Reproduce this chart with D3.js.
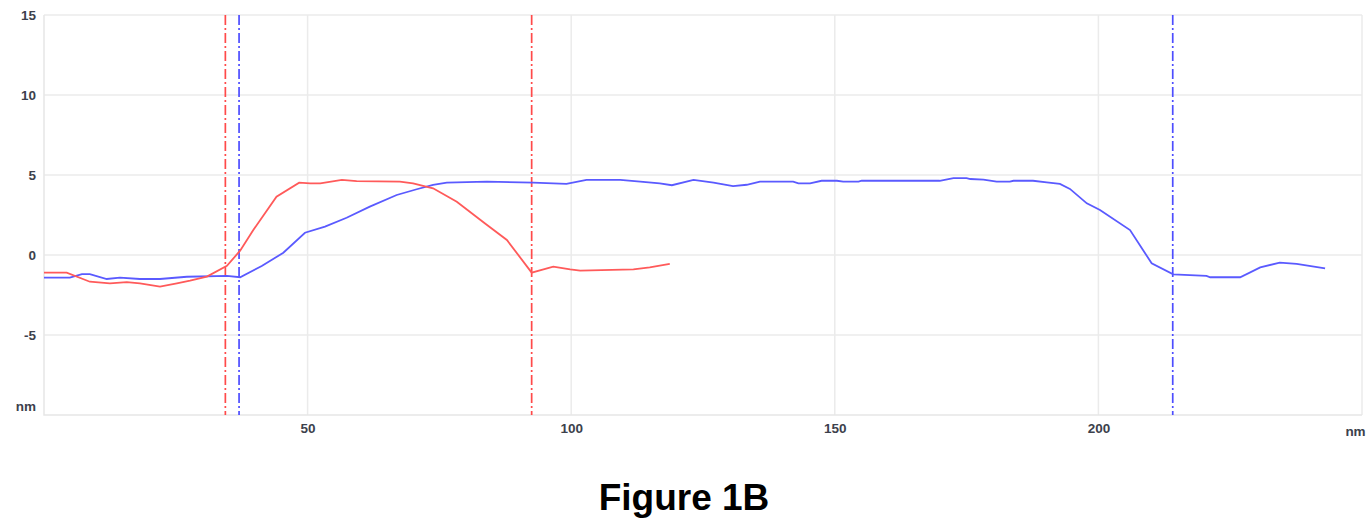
<!DOCTYPE html>
<html>
<head>
<meta charset="utf-8">
<script src="https://cdn.jsdelivr.net/npm/d3@7"></script>
<style>
  body { margin: 0; background: #fff; }
  .tick text { font-family: Arial, "Liberation Sans", sans-serif; font-size: 13.5px; font-weight: bold; fill: #3c414c; }
</style>
</head>
<body>
<svg id="chart" width="1372" height="527"></svg>
<script>
// profile data (nm, nm)
var redX = [0, 4.3, 8.7, 12.5, 15.7, 18.2, 22.0, 25.2, 27.7, 30.9, 34.7, 37.2, 39.7, 44.1, 48.4, 50.5, 52.4, 56.5, 59.3, 67.5, 70.0, 73.8, 78.3, 83.6, 87.8, 92.5, 96.6, 99.8, 101.7, 111.8, 114.9, 118.7];
var redY = [-1.1, -1.1, -1.67, -1.77, -1.7, -1.77, -1.98, -1.77, -1.6, -1.35, -0.67, 0.27, 1.56, 3.64, 4.52, 4.48, 4.48, 4.69, 4.62, 4.58, 4.48, 4.17, 3.33, 1.98, 0.94, -1.1, -0.73, -0.9, -0.98, -0.9, -0.77, -0.56];

var blueX = [0, 4.9, 7.2, 8.7, 11.9, 14.4, 18.2, 22.0, 27.1, 34.7, 37.2, 41.3, 45.4, 49.5, 53.3, 57.4, 61.8, 66.9, 70.7, 73.8, 76.4, 84.0, 92.8, 99.1, 102.9, 109.3, 113.1, 116.8, 119.1, 123.2, 127.0, 130.7, 133.3, 135.8, 142.1, 143.1, 145.3, 147.5, 150.4, 151.6, 154.5, 155.1, 169.9, 172.5, 175.0, 175.7, 178.2, 180.7, 183.2, 183.9, 187.6, 190.2, 192.7, 194.6, 197.8, 200.3, 206.0, 210.1, 214.2, 220.5, 221.2, 226.9, 230.7, 234.4, 237.6, 243.0];
var blueY = [-1.42, -1.42, -1.2, -1.2, -1.5, -1.42, -1.5, -1.5, -1.36, -1.31, -1.39, -0.69, 0.14, 1.39, 1.77, 2.33, 3.02, 3.75, 4.11, 4.38, 4.52, 4.58, 4.52, 4.44, 4.69, 4.69, 4.58, 4.48, 4.36, 4.69, 4.52, 4.31, 4.39, 4.58, 4.58, 4.48, 4.48, 4.64, 4.64, 4.58, 4.58, 4.64, 4.64, 4.81, 4.81, 4.75, 4.71, 4.58, 4.58, 4.64, 4.64, 4.54, 4.44, 4.13, 3.23, 2.81, 1.56, -0.52, -1.21, -1.31, -1.39, -1.39, -0.77, -0.48, -0.56, -0.83];

// cursor positions
var redCursors = [34.4, 92.5];
var blueCursors = [37.0, 214.1];

var xTicks = [50, 100, 150, 200];
var xTickLabels = ["50", "100", "150", "200", "nm"];
var yTicks = [15, 10, 5, 0, -5];
var yTickLabels = ["15", "10", "5", "0", "-5", "nm"];

var svg = d3.select("#chart"),
    margin = {top: 15, right: 10, bottom: 112, left: 44},
    width = +svg.attr("width") - margin.left - margin.right,
    height = +svg.attr("height") - margin.top - margin.bottom;

var x = d3.scaleLinear().domain([0, 250]).range([0, width]),
    y = d3.scaleLinear().domain([-10, 15]).range([height, 0]);

var g = svg.append("g")
    .attr("transform", "translate(" + margin.left + "," + margin.top + ")");

// grid
g.selectAll(".vgrid")
  .data(xTicks.concat([250]))
  .enter().append("line")
    .attr("x1", function(d) { return x(d); })
    .attr("x2", function(d) { return x(d); })
    .attr("y1", 0).attr("y2", height)
    .attr("stroke", "#ebebeb").attr("stroke-width", 1.5);

g.selectAll(".hgrid")
  .data(yTicks)
  .enter().append("line")
    .attr("x1", 0).attr("x2", width)
    .attr("y1", function(d) { return y(d); })
    .attr("y2", function(d) { return y(d); })
    .attr("stroke", "#ebebeb").attr("stroke-width", 1.5);

// plot frame (left and bottom)
g.append("path")
    .attr("d", "M0,0V" + height + "H" + width)
    .attr("fill", "none")
    .attr("stroke", "#e6e6e6").attr("stroke-width", 1.5);

// axes (labels only)
var xAxis = d3.axisBottom(x)
    .tickValues(xTicks.concat([250]))
    .tickSize(0).tickPadding(8)
    .tickFormat(function(d, i) { return xTickLabels[i]; });
var gx = g.append("g")
    .attr("transform", "translate(0," + height + ")")
    .call(xAxis);
gx.select(".domain").remove();
gx.selectAll(".tick").filter(function(d) { return d === 250; })
    .select("text").attr("dx", -7).attr("dy", "0.95em");

var yAxis = d3.axisLeft(y)
    .tickValues(yTicks.concat([-10]))
    .tickSize(0).tickPadding(8)
    .tickFormat(function(d, i) { return yTickLabels[i]; });
var gy = g.append("g").call(yAxis);
gy.select(".domain").remove();
gy.selectAll(".tick").filter(function(d) { return d === -10; })
    .select("text").attr("dy", "-0.3em");

// cursors
function cursor(vals, color) {
  g.selectAll(null)
    .data(vals)
    .enter().append("line")
      .attr("x1", function(d) { return x(d); })
      .attr("x2", function(d) { return x(d); })
      .attr("y1", 0).attr("y2", height)
      .attr("stroke", color)
      .attr("stroke-width", 1.7)
      .attr("stroke-dasharray", "10,3,2,3");
}
cursor(redCursors, "#ff4a4a");
cursor(blueCursors, "#4d4dff");

// profiles
var line = d3.line()
    .x(function(d) { return x(d[0]); })
    .y(function(d) { return y(d[1]); });

g.append("path")
    .datum(d3.zip(blueX, blueY))
    .attr("fill", "none")
    .attr("stroke", "#5a5aff")
    .attr("stroke-width", 1.8)
    .attr("d", line);

g.append("path")
    .datum(d3.zip(redX, redY))
    .attr("fill", "none")
    .attr("stroke", "#ff5a5a")
    .attr("stroke-width", 1.8)
    .attr("d", line);

svg.append("text")
    .attr("x", 684)
    .attr("y", 510)
    .attr("text-anchor", "middle")
    .style("font-family", "Arial, 'Liberation Sans', sans-serif")
    .style("font-size", "37px")
    .style("font-weight", "bold")
    .attr("fill", "#000")
    .text("Figure 1B");
</script>
</body>
</html>
